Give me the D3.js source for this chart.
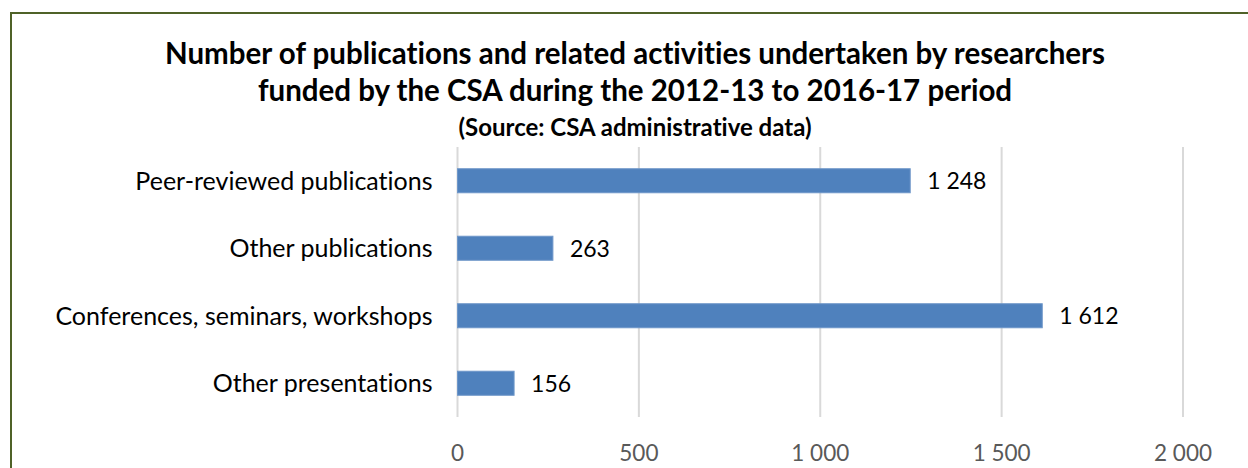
<!DOCTYPE html>
<html>
<head>
<meta charset="utf-8">
<title>CSA publications</title>
<script src="https://cdn.jsdelivr.net/npm/d3@7"></script>
<style>
    body { margin: 0; background: #fff; }
    svg { display: block; font-family: Lato, "Open Sans", sans-serif; font-variant-ligatures: none; }
    .grid line { stroke: #d9d9d9; stroke-width: 2px; }
    .bar { fill: #4f81bd; stroke: #6f97c9; stroke-width: 1px; }
    .cat { font-size: 25px; fill: #000; }
    .val { font-size: 23px; fill: #000; }
    .tick-label { font-size: 22.5px; fill: #595959; }
    .title { font-size: 29.5px; font-weight: bold; fill: #000; }
    .subtitle { font-size: 24px; font-weight: bold; fill: #000; }
</style>
</head>
<body>
<script>
    var categories = ["Peer-reviewed publications", "Other publications",
        "Conferences, seminars, workshops", "Other presentations"];
    var values = [1248, 263, 1612, 156];
    var ticks = [0, 500, 1000, 1500, 2000];
    var titleLines = ["Number of publications and related activities undertaken by researchers",
        "funded by the CSA during the 2012-13 to 2016-17 period"];
    var subtitle = "(Source: CSA administrative data)";

    var width = 1248, height = 468;
    var margin = { top: 147, left: 457.5, right: 65, bottom: 51 };

    // French-style thousands separator (space)
    var fmt = function (v) { return d3.format(",")(v).replace(/,/g, " "); };

    var svg = d3.select("body").append("svg")
        .attr("width", width)
        .attr("height", height);

    // outer chart border (right/bottom edges fall outside the picture)
    svg.append("rect")
        .attr("x", 11).attr("y", 13)
        .attr("width", width + 20).attr("height", height + 20)
        .attr("fill", "none")
        .attr("stroke", "#4f6228")
        .attr("stroke-width", 2);

    var x = d3.scaleLinear()
        .domain([0, 2000])
        .range([margin.left, width - margin.right]);

    var y = d3.scaleBand()
        .domain(categories)
        .range([margin.top, height - margin.bottom])
        .paddingInner(0.644)
        .paddingOuter(0.322);

    // vertical gridlines
    svg.append("g").attr("class", "grid")
        .selectAll("line")
        .data(ticks)
        .enter().append("line")
        .attr("x1", function (d) { return x(d); })
        .attr("x2", function (d) { return x(d); })
        .attr("y1", margin.top)
        .attr("y2", height - margin.bottom);

    // x tick labels
    svg.append("g")
        .selectAll("text")
        .data(ticks)
        .enter().append("text")
        .attr("class", "tick-label")
        .attr("x", function (d) { return x(d); })
        .attr("y", 461)
        .attr("text-anchor", "middle")
        .text(fmt);

    // bars
    svg.append("g")
        .selectAll("rect")
        .data(values)
        .enter().append("rect")
        .attr("class", "bar")
        .attr("x", x(0))
        .attr("y", function (d, i) { return y(categories[i]); })
        .attr("width", function (d) { return x(d) - x(0); })
        .attr("height", y.bandwidth());

    // value labels
    svg.append("g")
        .selectAll("text")
        .data(values)
        .enter().append("text")
        .attr("class", "val")
        .attr("x", function (d) { return x(d) + 17; })
        .attr("y", function (d, i) { return y(categories[i]) + y.bandwidth() / 2; })
        .attr("dy", "0.36em")
        .text(fmt);

    // category labels
    svg.append("g")
        .selectAll("text")
        .data(categories)
        .enter().append("text")
        .attr("class", "cat")
        .attr("x", x(0) - 25)
        .attr("y", function (d) { return y(d) + y.bandwidth() / 2; })
        .attr("dy", "0.36em")
        .attr("text-anchor", "end")
        .text(function (d) { return d; });

    // title
    svg.append("g")
        .selectAll("text")
        .data(titleLines)
        .enter().append("text")
        .attr("class", "title")
        .attr("x", 635)
        .attr("y", function (d, i) { return 64 + i * 37; })
        .attr("text-anchor", "middle")
        .text(function (d) { return d; });

    svg.append("text")
        .attr("class", "subtitle")
        .attr("x", 635)
        .attr("y", 136)
        .attr("text-anchor", "middle")
        .text(subtitle);
</script>
</body>
</html>
